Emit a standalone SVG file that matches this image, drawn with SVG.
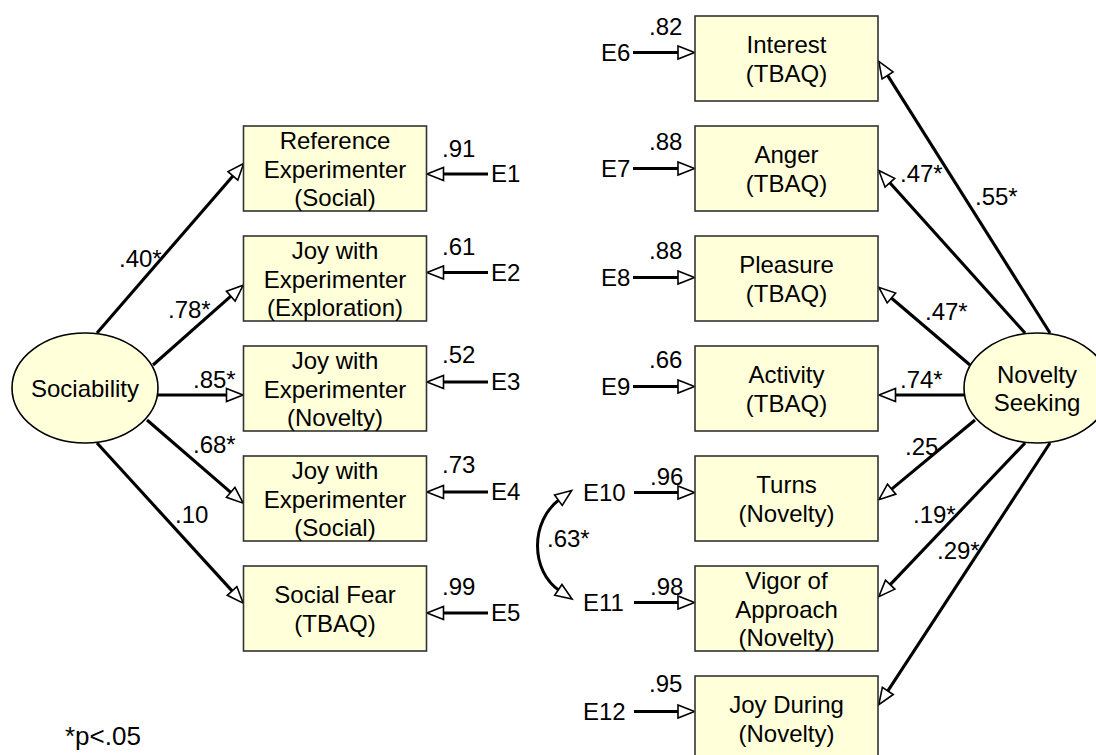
<svg xmlns="http://www.w3.org/2000/svg" width="1096" height="755" viewBox="0 0 1096 755">
<defs>
<style>
text{font-family:"Liberation Sans",Arial,sans-serif;font-size:24px;fill:#000}
.c{text-anchor:middle}
.box{fill:#FFFFDA;stroke:#333;stroke-width:1.6}
.lat{fill:#FFFFDA;stroke:#000;stroke-width:1.6}
.ln{fill:none;stroke:#000;stroke-width:3.1;marker-end:url(#ah)}
.er{fill:none;stroke:#000;stroke-width:2.8;marker-end:url(#ah)}
</style>
<marker id="ah" markerUnits="userSpaceOnUse" markerWidth="20" markerHeight="16" refX="2.5" refY="7" orient="auto" overflow="visible">
<path d="M0.5,0.5 L17,7 L0.5,13.5 Z" fill="#fff" stroke="#000" stroke-width="1.6"/>
</marker>
<marker id="ah2" markerUnits="userSpaceOnUse" markerWidth="20" markerHeight="16" refX="2.5" refY="7" orient="auto-start-reverse" overflow="visible">
<path d="M0.5,0.5 L17,7 L0.5,13.5 Z" fill="#fff" stroke="#000" stroke-width="1.6"/>
</marker>
</defs>
<rect width="1096" height="755" fill="#fff"/>

<g id="connectors">
<path class="ln" d="M97,333 L234.2,174.4"/>
<path class="ln" d="M153,365 L232.3,294.9"/>
<path class="ln" d="M158,395 L228.5,395"/>
<path class="ln" d="M147,420 L232.2,493.7"/>
<path class="ln" d="M97,443 L233.4,592.4"/>
<path class="er" d="M488,174 L441.5,174"/>
<path class="er" d="M488,272.5 L441.5,272.5"/>
<path class="er" d="M488,382 L441.5,382"/>
<path class="er" d="M488,492 L441.5,492"/>
<path class="er" d="M488,613 L441.5,613"/>
<path class="ln" d="M1050,333 L886.5,73.7"/>
<path class="ln" d="M1025,333 L888.5,181.2"/>
<path class="ln" d="M970,365 L889.9,296.7"/>
<path class="ln" d="M964,395 L893.5,395"/>
<path class="ln" d="M975,420 L890.1,490.4"/>
<path class="ln" d="M1025,443 L888.8,586.1"/>
<path class="ln" d="M1050,443 L886.7,692.6"/>
<path class="er" d="M633,52.5 L680,52.5"/>
<path class="er" d="M633,168.5 L680,168.5"/>
<path class="er" d="M633,277.5 L680,277.5"/>
<path class="er" d="M633,386.5 L680,386.5"/>
<path class="er" d="M634,492.5 L680,492.5"/>
<path class="er" d="M634,602.5 L680,602.5"/>
<path class="er" d="M634,711.5 L680,711.5"/>
<path d="M560,499 C530,521 530,571 560,591" fill="none" stroke="#000" stroke-width="3" marker-start="url(#ah2)" marker-end="url(#ah2)"/>
</g>

<g id="sociability">
<ellipse class="lat" cx="85" cy="388" rx="73" ry="55"/>
<text class="c" x="85" y="397">Sociability</text>
</g>
<g id="novelty">
<ellipse class="lat" cx="1037" cy="388" rx="73" ry="55"/>
<text class="c" x="1037" y="382.6">Novelty</text>
<text class="c" x="1037" y="411.4">Seeking</text>
</g>

<g id="box1"><rect class="box" x="243.5" y="126" width="183" height="85"/>
<text class="c" x="335" y="148.7">Reference</text><text class="c" x="335" y="177.5">Experimenter</text><text class="c" x="335" y="206.3">(Social)</text></g>
<g id="box2"><rect class="box" x="243.5" y="236" width="183" height="85"/>
<text class="c" x="335" y="258.7">Joy with</text><text class="c" x="335" y="287.5">Experimenter</text><text class="c" x="335" y="316.3">(Exploration)</text></g>
<g id="box3"><rect class="box" x="243.5" y="346" width="183" height="85"/>
<text class="c" x="335" y="368.7">Joy with</text><text class="c" x="335" y="397.5">Experimenter</text><text class="c" x="335" y="426.3">(Novelty)</text></g>
<g id="box4"><rect class="box" x="243.5" y="456" width="183" height="85"/>
<text class="c" x="335" y="478.7">Joy with</text><text class="c" x="335" y="507.5">Experimenter</text><text class="c" x="335" y="536.3">(Social)</text></g>
<g id="box5"><rect class="box" x="243.5" y="566" width="183" height="85"/>
<text class="c" x="335" y="603.1">Social Fear</text><text class="c" x="335" y="631.9">(TBAQ)</text></g>

<g id="box6"><rect class="box" x="695" y="16" width="183" height="85"/>
<text class="c" x="786.5" y="53.1">Interest</text><text class="c" x="786.5" y="81.9">(TBAQ)</text></g>
<g id="box7"><rect class="box" x="695" y="126" width="183" height="85"/>
<text class="c" x="786.5" y="163.1">Anger</text><text class="c" x="786.5" y="191.9">(TBAQ)</text></g>
<g id="box8"><rect class="box" x="695" y="236" width="183" height="85"/>
<text class="c" x="786.5" y="273.1">Pleasure</text><text class="c" x="786.5" y="301.9">(TBAQ)</text></g>
<g id="box9"><rect class="box" x="695" y="346" width="183" height="85"/>
<text class="c" x="786.5" y="383.1">Activity</text><text class="c" x="786.5" y="411.9">(TBAQ)</text></g>
<g id="box10"><rect class="box" x="695" y="456" width="183" height="85"/>
<text class="c" x="786.5" y="493.1">Turns</text><text class="c" x="786.5" y="521.9">(Novelty)</text></g>
<g id="box11"><rect class="box" x="695" y="566" width="183" height="85"/>
<text class="c" x="786.5" y="588.7">Vigor of</text><text class="c" x="786.5" y="617.5">Approach</text><text class="c" x="786.5" y="646.3">(Novelty)</text></g>
<g id="box12"><rect class="box" x="695" y="676" width="183" height="85"/>
<text class="c" x="786.5" y="713.1">Joy During</text><text class="c" x="786.5" y="741.9">(Novelty)</text></g>

<g id="errors">
<text x="491" y="182">E1</text>
<text x="491" y="280.5">E2</text>
<text x="491" y="390">E3</text>
<text x="491" y="500">E4</text>
<text x="491" y="621">E5</text>
<text x="601" y="60.5">E6</text>
<text x="601" y="176.5">E7</text>
<text x="601" y="285.5">E8</text>
<text x="601" y="394.5">E9</text>
<text x="583" y="500.5">E10</text>
<text x="583" y="610.5">E11</text>
<text x="583" y="719.5">E12</text>
</g>

<g id="labels">
<text x="119" y="267">.40*</text>
<text x="168" y="318">.78*</text>
<text x="193" y="388">.85*</text>
<text x="193" y="453">.68*</text>
<text x="175" y="523">.10</text>
<text x="442" y="157">.91</text>
<text x="442" y="255">.61</text>
<text x="442" y="363">.52</text>
<text x="442" y="473">.73</text>
<text x="442" y="595">.99</text>
<text x="649" y="34.5">.82</text>
<text x="649" y="150">.88</text>
<text x="649" y="258.5">.88</text>
<text x="649" y="368">.66</text>
<text x="650" y="485">.96</text>
<text x="650" y="595">.98</text>
<text x="649" y="692">.95</text>
<text x="900" y="182">.47*</text>
<text x="975" y="205">.55*</text>
<text x="925" y="320">.47*</text>
<text x="900" y="388">.74*</text>
<text x="905" y="455">.25</text>
<text x="913" y="523">.19*</text>
<text x="937" y="559">.29*</text>
<text x="547" y="547">.63*</text>
<text x="65" y="745" style="font-size:26px">*p&lt;.05</text>
</g>
</svg>
